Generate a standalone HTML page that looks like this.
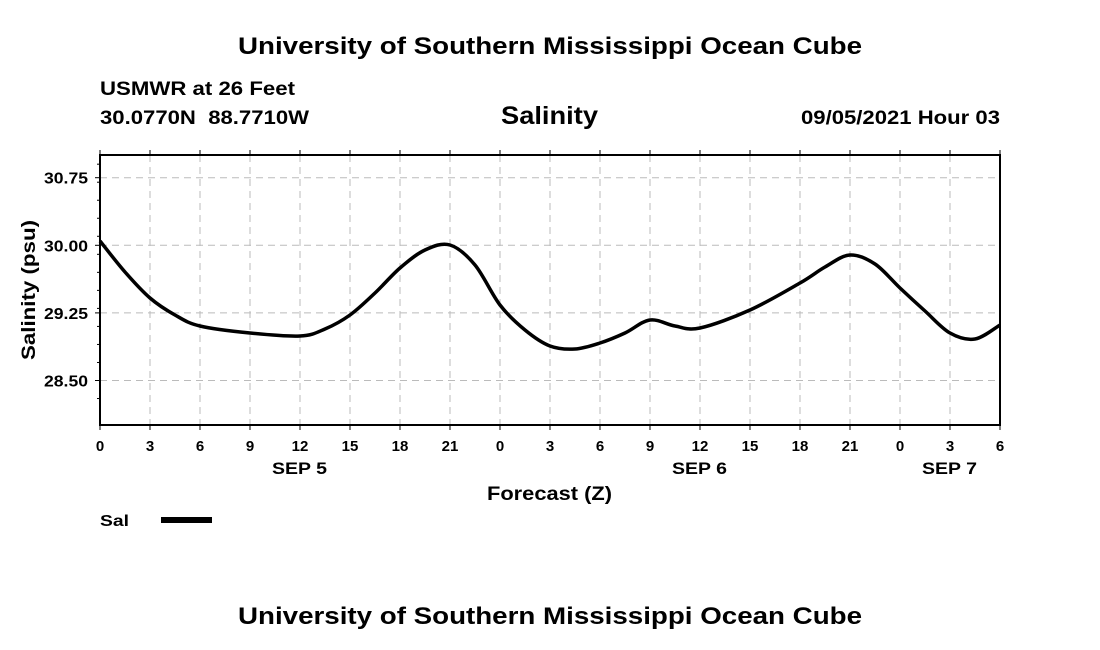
<!DOCTYPE html>
<html><head><meta charset="utf-8"><style>
html,body{margin:0;padding:0;background:#fff;}
svg{display:block;font-family:"Liberation Sans",sans-serif;font-weight:bold;}
</style></head><body>
<svg id="s" width="1100" height="650" xmlns="http://www.w3.org/2000/svg">
<rect width="1100" height="650" fill="#fff"/>
<text x="238" y="54" font-size="24" textLength="624" lengthAdjust="spacingAndGlyphs">University of Southern Mississippi Ocean Cube</text>
<text x="100" y="95" font-size="19" textLength="195" lengthAdjust="spacingAndGlyphs">USMWR at 26 Feet</text>
<text x="100" y="124" font-size="19" textLength="209" lengthAdjust="spacingAndGlyphs" xml:space="preserve">30.0770N  88.7710W</text>
<text x="501" y="124" font-size="25" textLength="97" lengthAdjust="spacingAndGlyphs">Salinity</text>
<text x="801" y="124" font-size="19" textLength="199" lengthAdjust="spacingAndGlyphs">09/05/2021 Hour 03</text>
<g id="grid" stroke="#bbb" stroke-dasharray="7,5" stroke-width="1"></g>
<g id="ticks" stroke="#000" stroke-width="1"></g>
<rect x="100" y="155" width="900" height="270" fill="none" stroke="#000" stroke-width="2"/>
<g id="lbl" font-size="14"></g>
<text x="272" y="474" font-size="17" textLength="55" lengthAdjust="spacingAndGlyphs">SEP 5</text>
<text x="672" y="474" font-size="17" textLength="55" lengthAdjust="spacingAndGlyphs">SEP 6</text>
<text x="922" y="474" font-size="17" textLength="55" lengthAdjust="spacingAndGlyphs">SEP 7</text>
<text x="487" y="500" font-size="19" textLength="125" lengthAdjust="spacingAndGlyphs">Forecast (Z)</text>
<text transform="translate(35,360) rotate(-90)" font-size="19" textLength="140" lengthAdjust="spacingAndGlyphs">Salinity (psu)</text>
<text x="100" y="526" font-size="16" textLength="29" lengthAdjust="spacingAndGlyphs">Sal</text>
<rect x="161" y="517" width="51" height="6" fill="#000"/>
<path id="curve" fill="none" stroke="#000" stroke-width="3.5" stroke-linejoin="round"/>
<text x="238" y="624" font-size="24" textLength="624" lengthAdjust="spacingAndGlyphs">University of Southern Mississippi Ocean Cube</text>
</svg>
<script>
var NS="http://www.w3.org/2000/svg";
function el(p,t,a,txt){var e=document.createElementNS(NS,t);for(var k in a)e.setAttribute(k,a[k]);if(txt!=null)e.textContent=txt;document.getElementById(p).appendChild(e);}
function Y(v){return 245.3-(v-30)*(67.6/0.75);}
var xl=[0,3,6,9,12,15,18,21,0,3,6,9,12,15,18,21,0,3,6];
for(var i=0;i<19;i++){var x=100+i*50;
 if(i>0&&i<18)el("grid","line",{x1:x,x2:x,y1:155,y2:425});
 el("ticks","line",{x1:x,x2:x,y1:425,y2:430});el("ticks","line",{x1:x,x2:x,y1:150,y2:155});
 el("lbl","text",{x:x,y:451,"text-anchor":"middle","font-size":15},xl[i]);}
[30.75,30,29.25,28.5].forEach(function(v){var y=Y(v);el("grid","line",{x1:100,x2:1000,y1:y,y2:y});
 el("ticks","line",{x1:95,x2:100,y1:y,y2:y});el("lbl","text",{x:44,y:y+6,"font-size":16,textLength:44,lengthAdjust:"spacingAndGlyphs"},v.toFixed(2));});
for(var v=28.3;v<31;v+=0.2){var y=Y(v);if(y>155&&y<425){el("ticks","line",{x1:97,x2:100,y1:y,y2:y});}}
var P=[[0,241],[1.5,272],[3,298],[4.5,315],[6,326],[9,333],[12,336],[13.5,329],[15,315],[16.5,293],[18,268],[19.5,250],[21,245],[22.5,265],[24,305],[25.5,330],[27,346],[28.5,349],[30,343],[31.5,333],[33,320],[34.5,326],[36,328],[39,310],[42,283],[43.5,267],[45,255],[46.5,264],[48,288],[49.5,311],[51,333],[52.5,339],[54,325]];
P=P.map(function(p){return [100+p[0]*50/3,p[1]];});
var d="M"+P[0][0]+","+P[0][1];
for(var i=0;i<P.length-1;i++){var p0=P[Math.max(0,i-1)],p1=P[i],p2=P[i+1],p3=P[Math.min(P.length-1,i+2)];
 d+=" C"+(p1[0]+(p2[0]-p0[0])/6)+","+(p1[1]+(p2[1]-p0[1])/6)+" "+(p2[0]-(p3[0]-p1[0])/6)+","+(p2[1]-(p3[1]-p1[1])/6)+" "+p2[0]+","+p2[1];}
document.getElementById("curve").setAttribute("d",d);
</script>
</body></html>
